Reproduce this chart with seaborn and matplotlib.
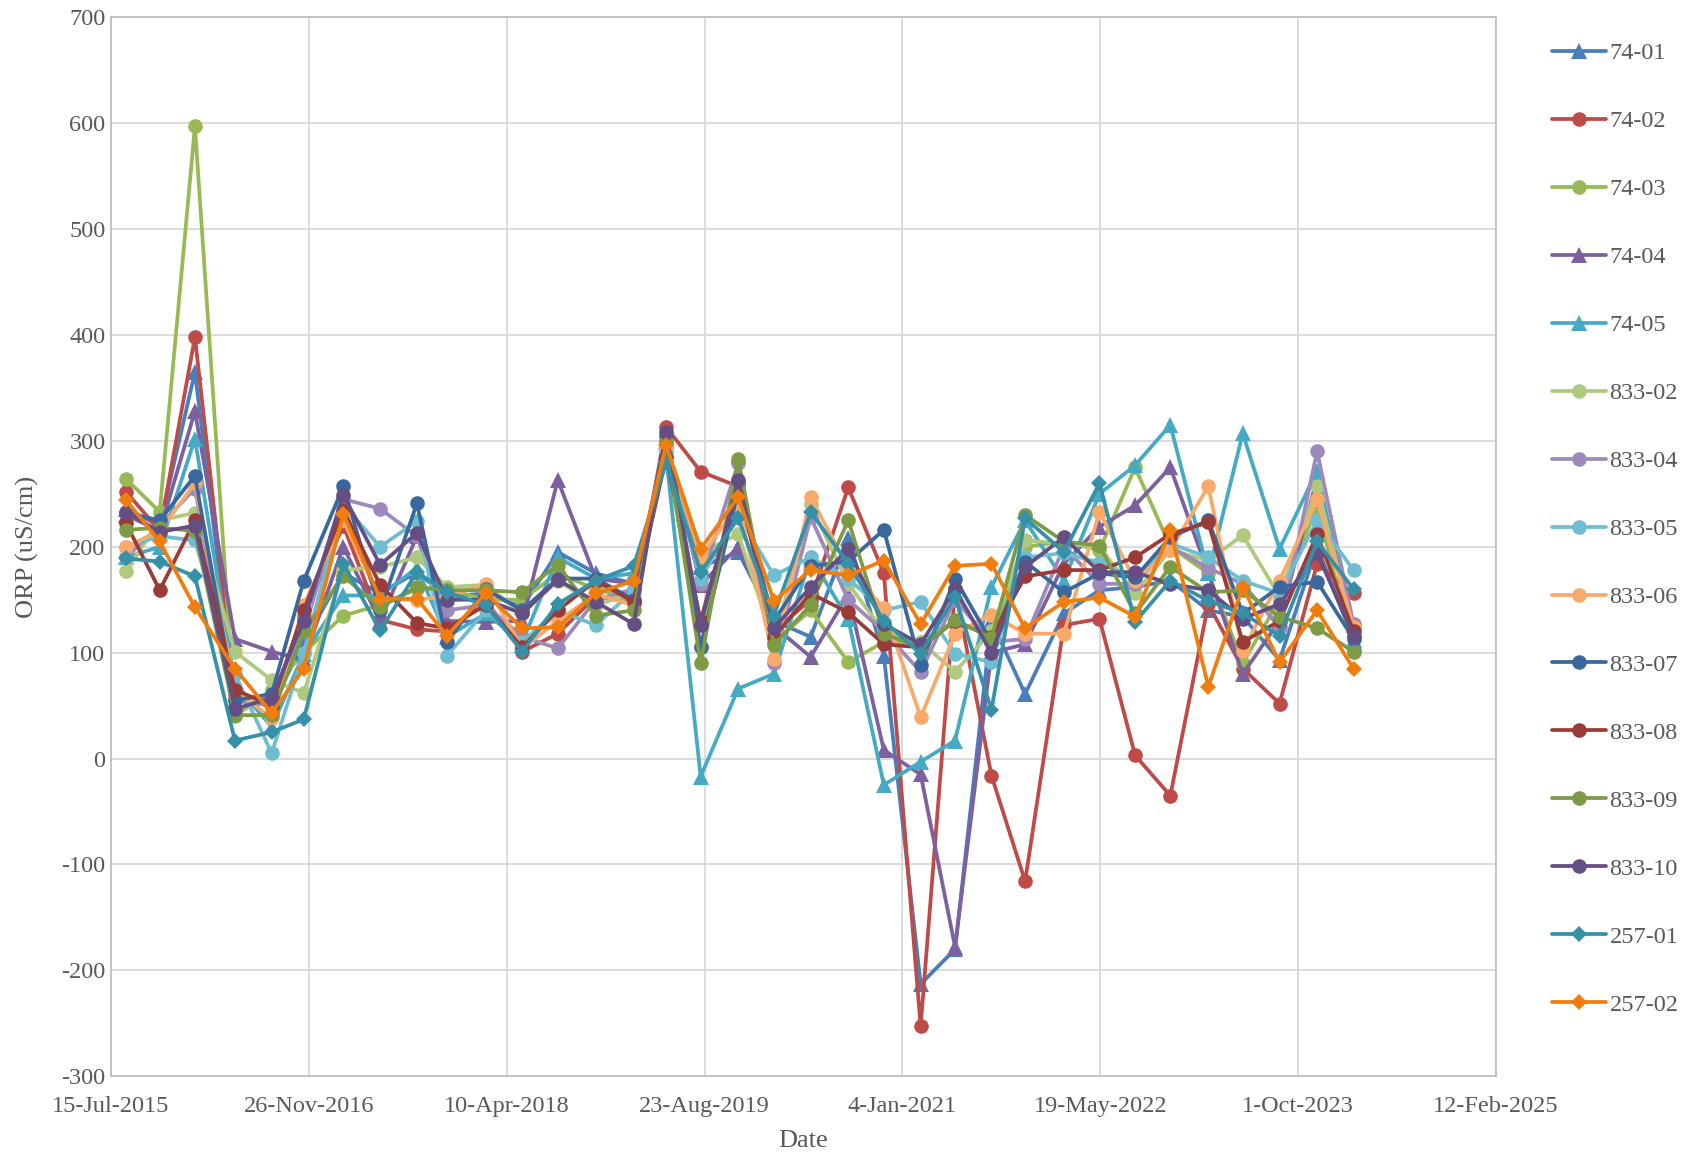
import matplotlib
matplotlib.use("Agg")
import matplotlib.pyplot as plt
import matplotlib.dates as mdates
import seaborn as sns
import numpy as np
import pandas as pd

sns.set_style("white")
plt.rcParams['font.family'] = ['Liberation Serif', 'DejaVu Serif']
plt.rcParams['axes.unicode_minus'] = False

# Sampling dates (roughly quarterly)
dates = ['2015-08-22', '2015-11-15', '2016-02-12', '2016-05-23', '2016-08-24',
         '2016-11-13', '2017-02-21', '2017-05-25', '2017-08-26', '2017-11-10',
         '2018-02-16', '2018-05-19', '2018-08-17', '2018-11-21', '2019-02-25',
         '2019-05-18', '2019-08-13', '2019-11-16', '2020-02-14', '2020-05-17',
         '2020-08-20', '2020-11-18', '2021-02-19', '2021-05-17', '2021-08-17',
         '2021-11-10', '2022-02-16', '2022-05-17', '2022-08-15', '2022-11-12',
         '2023-02-16', '2023-05-14', '2023-08-15', '2023-11-18', '2024-02-18']

# ORP readings per well
w74_01 = [236, 220, 365, 55, 50, 110, 175, 156, 176, 153, 156, 143, 195, 175, 165, 290, 181, 195,
          130, 115, 208, 97, -213, -180, 130, 61, 137, 159, 162, 168, 140, 134, 93, 200, 112]
w74_02 = [252, 215, 398, 60, 55, 135, 220, 131, 122, 120, 150, 101, 118, 153, 148, 313, 271, 257,
          120, 150, 256, 175, -253, 160, -16, -116, 126, 132, 3, -35, 146, 85, 52, 184, 156]
w74_03 = [264, 233, 597, 40, 65, 100, 135, 145, 160, 160, 150, 150, 175, 160, 150, 290, 105, 280,
          110, 140, 91, 110, 110, 130, 115, 200, 205, 197, 275, 200, 175, 90, 150, 238, 102]
w74_04 = [230, 215, 328, 113, 101, 93, 200, 130, 210, 130, 129, 130, 263, 170, 165, 300, 164, 200,
          125, 96, 155, 8, -15, -178, 100, 108, 184, 219, 239, 275, 175, 80, 130, 265, 126]
w74_05 = [190, 200, 302, 70, 30, 99, 154, 154, 180, 115, 137, 110, 190, 170, 175, 285, -17, 66,
          80, 190, 132, -25, -3, 17, 162, 225, 168, 250, 277, 315, 175, 307, 198, 272, 110]
w833_02 = [177, 225, 232, 101, 74, 62, 178, 181, 190, 162, 164, 137, 168, 145, 156, 295, 194, 212,
           110, 240, 165, 120, 110, 82, 120, 206, 203, 200, 156, 197, 187, 211, 153, 257, 122]
w833_04 = [190, 220, 255, 55, 50, 120, 245, 236, 210, 140, 145, 115, 104, 150, 160, 300, 165, 279,
           90, 228, 150, 120, 82, 150, 110, 113, 200, 165, 165, 200, 180, 165, 124, 290, 127]
w833_05 = [200, 210, 206, 80, 5, 100, 240, 200, 224, 97, 140, 110, 140, 126, 159, 290, 170, 230,
           173, 190, 170, 140, 148, 99, 91, 190, 194, 185, 170, 203, 190, 168, 156, 225, 178]
w833_06 = [200, 215, 260, 65, 38, 145, 225, 150, 150, 153, 165, 104, 130, 155, 145, 295, 190, 240,
           94, 247, 180, 142, 39, 118, 136, 118, 118, 233, 168, 197, 257, 102, 168, 245, 124]
w833_07 = [232, 225, 267, 55, 61, 168, 257, 140, 241, 110, 160, 140, 170, 170, 150, 305, 105, 253,
           130, 182, 186, 216, 88, 170, 110, 186, 157, 175, 171, 209, 225, 137, 162, 167, 113]
w833_08 = [222, 159, 225, 65, 50, 140, 235, 164, 128, 123, 145, 105, 140, 168, 148, 285, 130, 260,
           115, 156, 138, 108, 105, 130, 115, 172, 178, 178, 190, 212, 223, 110, 130, 212, 120]
w833_09 = [216, 218, 215, 41, 41, 120, 172, 143, 162, 159, 159, 157, 183, 135, 140, 299, 90, 283,
           107, 145, 225, 118, 105, 131, 114, 230, 205, 201, 137, 181, 157, 159, 134, 123, 101]
w833_10 = [233, 214, 220, 47, 57, 130, 249, 183, 213, 150, 150, 137, 169, 148, 127, 308, 126, 263,
           123, 162, 198, 127, 108, 160, 100, 181, 209, 176, 176, 165, 159, 132, 146, 194, 116]
w257_01 = [189, 186, 172, 17, 25, 37, 184, 121, 176, 157, 145, 101, 146, 168, 182, 280, 176, 227,
           135, 233, 184, 130, 99, 153, 46, 227, 195, 260, 129, 168, 149, 137, 116, 205, 160]
w257_02 = [244, 205, 143, 85, 43, 85, 231, 151, 151, 116, 156, 123, 124, 156, 168, 296, 198, 247,
           149, 178, 173, 187, 127, 182, 184, 123, 148, 152, 134, 216, 68, 162, 91, 140, 85]

series = [
    ('74-01', w74_01, '#4A7EBB', '^'),
    ('74-02', w74_02, '#BE4B48', 'o'),
    ('74-03', w74_03, '#98B954', 'o'),
    ('74-04', w74_04, '#7D60A0', '^'),
    ('74-05', w74_05, '#46AAC5', '^'),
    ('833-02', w833_02, '#AFCA7E', 'o'),
    ('833-04', w833_04, '#9D89BC', 'o'),
    ('833-05', w833_05, '#6FBDD1', 'o'),
    ('833-06', w833_06, '#F9AA6A', 'o'),
    ('833-07', w833_07, '#3A679E', 'o'),
    ('833-08', w833_08, '#9B3B38', 'o'),
    ('833-09', w833_09, '#7D9A45', 'o'),
    ('833-10', w833_10, '#654E84', 'o'),
    ('257-01', w257_01, '#3590A8', 'D'),
    ('257-02', w257_02, '#F17D0E', 'D'),
]

fig = plt.figure(figsize=(16.9, 11.56), dpi=100)
ax = fig.add_axes([0.0657, 0.069, 0.8195, 0.916])

x = pd.to_datetime(dates)
for name, vals, color, mk in series:
    df = pd.DataFrame({'Date': x, 'ORP': vals})
    ms = 8 if mk == 'D' else (11 if mk == '^' else 10.5)
    sns.lineplot(data=df, x='Date', y='ORP', ax=ax, color=color, marker=mk,
                 markersize=ms, markeredgewidth=0, linewidth=2.7, label=name,
                 sort=False)

# Axes formatting
ax.set_ylim(-300, 700)
ax.set_yticks(np.arange(-300, 701, 100))
start = pd.Timestamp('2015-07-15')
ticks = [start + pd.Timedelta(days=500 * i) for i in range(8)]
ax.set_xlim(ticks[0], ticks[-1])
ax.set_xticks(ticks)
ax.xaxis.set_major_formatter(mdates.DateFormatter('%-d-%b-%Y'))

ax.grid(True, color='#D9D9D9', linewidth=1.3)
for sp in ax.spines.values():
    sp.set_color('#BFBFBF')
    sp.set_linewidth(1.3)
ax.tick_params(axis='both', length=0, labelsize=17.5, labelcolor='#595959')
ax.tick_params(axis='x', pad=14)
ax.tick_params(axis='y', pad=4)
ax.set_xlabel('Date', fontsize=19, color='#595959')
ax.set_ylabel('ORP (uS/cm)', fontsize=19, color='#595959')
ax.xaxis.label.set_va('center')
ax.yaxis.label.set_va('center')
ax.xaxis.set_label_coords(0.5, -0.0614)
ax.yaxis.set_label_coords(-0.060, 0.5)

leg = ax.legend(loc='upper left', bbox_to_anchor=(1.025, 0.997), frameon=False,
                fontsize=17.5, handlelength=2.2, labelspacing=1.89, handletextpad=0.15)
for t in leg.get_texts():
    t.set_color('#595959')

plt.savefig('out.png', dpi=100)
